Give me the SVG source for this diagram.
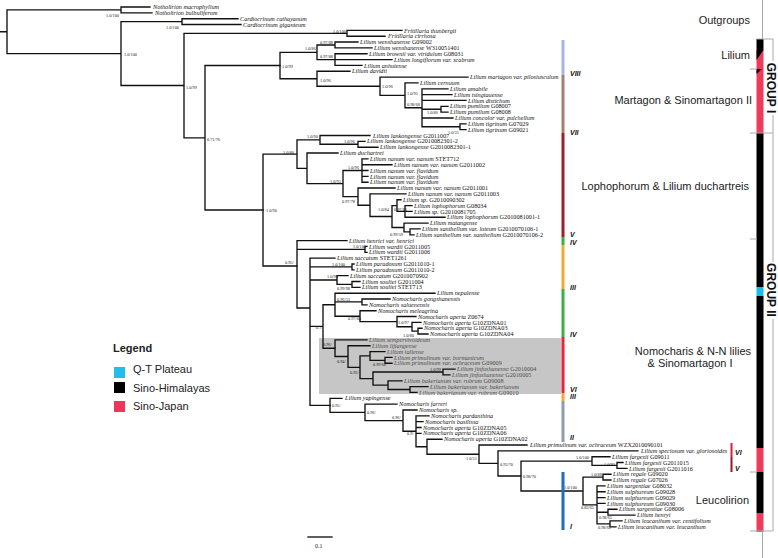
<svg xmlns="http://www.w3.org/2000/svg" width="778" height="558" viewBox="0 0 778 558">
<style>
.t{font-family:"Liberation Serif",serif;font-style:italic;font-size:6.2px;fill:#111}
.c{font-style:normal}
.g .t{fill:#4d4d4d}
.s{font-family:"Liberation Serif",serif;font-size:4.3px;fill:#222}
.r{font-family:"Liberation Sans",sans-serif;font-weight:bold;font-style:italic;font-size:7px;fill:#111}
.lab{font-family:"Liberation Sans",sans-serif;font-size:11px;fill:#222}
.grp{font-family:"Liberation Sans",sans-serif;font-size:12px;font-weight:bold;fill:#111}
.br{stroke:#aaa;stroke-width:1;fill:none}
.tree{stroke:#111;stroke-width:1.35;fill:none;stroke-linecap:square}
</style>
<rect width="778" height="558" fill="#fff"/>
<rect id="shade" x="319" y="338" width="242" height="56" fill="#c6c6c6"/>
<g id="connectors" class="tree">
<path d="M0 31.7H7M7 9.9V53.6M7 9.9H121M7 53.6H121M121 7V12.8M121 7H150M121 12.8H152M121 21.6V85.5M121 21.6H182M121 85.5H184M182 18.7V24.5M182 18.7H238M182 24.5H241M184 33.3V137.8M184 33.3H347M184 137.8H205M347 30.4V36.2M347 30.4H402M347 36.2H385M205 65.5V210M205 65.5H280M205 210H263"/>
<path d="M280 52.3V78.7M280 52.3H317M280 78.7H317M317 45V59.6M317 45H335M317 59.6H335M335 42V47.9M335 42H358M335 47.9H372M335 53.7V65.4M335 53.7H367M335 59.6H392M335 65.4H362M317 71.2V86.2M317 71.2H350M317 86.2H380M380 77.1V95.3M380 77.1H468M380 95.3H405M405 82.9V107.7M405 82.9H418M405 107.7H422M422 88.8V126.7M422 88.8H448M422 94.6H452M422 100.4H466M422 109.2H441M422 118H453M422 126.7H460M441 106.3V112.1M441 106.3H448M441 112.1H448M460 123.8V129.6M460 123.8H466M460 129.6H466"/>
<path d="M263 154.1V266M263 154.1H297M263 266H297M297 139.9V168.3M297 139.9H320M297 168.3H307M320 135.5V144.2M320 135.5H370M320 144.2H358M358 141.3V147.2M358 141.3H365M358 147.2H378M307 153V183.6M307 153H338M307 183.6H343M343 170.5V196.6M343 170.5H362M343 196.6H358M362 158.8V182.2M362 158.8H368M362 164.7H392M362 170.5H368M362 176.4H368M362 182.2H368M358 188V205.2M358 188H395M358 205.2H370M370 193.9V216.5M370 193.9H406M370 216.5H392M392 205.6V227.5M392 205.6H397M392 227.5H404M397 199.7V211.4M397 199.7H401M397 211.4H405M405 205.6V217.2M405 205.6H412M405 211.4H412M405 217.2H445M404 223.1V231.8M404 223.1H428M404 231.8H410M410 228.9V234.8M410 228.9H420M410 234.8H414"/>
<path d="M297 240.6V308M297 240.6H347M297 249.4H365M297 308H310M365 246.4V252.3M365 246.4H367M365 252.3H367M310 258.1V405.3M310 258.1H335M310 266.9H352M310 280H337M310 326.4H323M310 405.3H330M352 264V269.8M352 264H354M352 269.8H354M337 275.6V284.4M337 275.6H348M337 284.4H352M352 281.5V287.3M352 281.5H360M352 287.3H360M323 304.7V348.2M323 304.7H335M323 348.2H335M335 293.2V316.2M335 293.2H435M335 301.9H362M335 316.2H360M362 299V304.8M362 299H390M362 304.8H367M360 310.7V321.6M360 310.7H376M360 321.6H397M397 316.5V326.7M397 316.5H416M397 326.7H412M412 322.4V331.1M412 322.4H421M412 331.1H418M418 328.2V334M418 328.2H422M418 334H428"/>
<path d="M335 339.9V356.5M335 339.9H367M335 356.5H348M348 345.7V367.3M348 345.7H370M348 367.3H360M360 355.9V378.6M360 355.9H370M360 378.6H373M370 351.6V360.3M370 351.6H385M370 360.3H385M385 357.4V363.2M385 357.4H392M385 363.2H392M373 372V385.1M373 372H443M373 385.1H388M443 369.1V374.9M443 369.1H455M443 374.9H450M388 380.8V389.5M388 380.8H402M388 389.5H410M410 386.6V392.4M410 386.6H428M410 392.4H417"/>
<path d="M330 398.3V412.4M330 398.3H342M330 412.4H365M365 404.1V420.6M365 404.1H397M365 420.6H403M403 410V431.2M403 410H417M403 431.2H416M416 415.8V446.7M416 415.8H429M416 421.6H423M416 427.5H421M416 433.3H421M416 446.7H427M427 439.2V454.2M427 439.2H442M427 454.2H479M479 445V463.4M479 445H527M479 463.4H498M498 450.8V476M498 450.8H638M498 476H521M521 461.1V491M521 461.1H592M521 491H583M592 456.7V465.4M592 456.7H610M592 465.4H617M617 462.5V468.4M617 462.5H623M617 468.4H627M583 477.1V504.9M583 477.1H603M583 504.9H597M603 474.2V480M603 474.2H611M603 480H611M597 485.9V523.8M597 485.9H605M597 491.7H605M597 497.6H605M597 503.4H605M597 512.2H608M597 523.8H610M608 509.2V515.1M608 509.2H617M608 515.1H635M610 520.9V526.8M610 520.9H622M610 526.8H616"/>
<path d="M308 537H332"/>
</g>
<g id="tips">
<g id="t00"><text class="t" x="153" y="9.1">Notholirion macrophyllum</text></g>
<g id="t01"><text class="t" x="155" y="14.9">Notholirion bulbuliferum</text></g>
<g id="t02"><text class="t" x="240" y="20.8">Cardiocrinum cathayanum</text></g>
<g id="t03"><text class="t" x="243" y="26.6">Cardiocrinum giganteum</text></g>
<g id="t04"><text class="t" x="404" y="32.5">Fritillaria thunbergii</text></g>
<g id="t05"><text class="t" x="388" y="38.3">Fritillaria cirrhosa</text></g>
<g id="t06"><text class="t" x="360" y="44.1">Lilium wenshanense <tspan class="c">G09002</tspan></text></g>
<g id="t07"><text class="t" x="374" y="50">Lilium wenshanense <tspan class="c">W310051401</tspan></text></g>
<g id="t08"><text class="t" x="369" y="55.8">Lilium brownii var. viridulum <tspan class="c">G08031</tspan></text></g>
<g id="t09"><text class="t" x="394" y="61.7">Lilium longiflorum var. scabrum</text></g>
<g id="t10"><text class="t" x="364" y="67.5">Lilium anhuiense</text></g>
<g id="t11"><text class="t" x="352" y="73.3">Lilium davidii</text></g>
<g id="t12"><text class="t" x="470" y="79.2">Lilium martagon var. pilosiusculum</text></g>
<g id="t13"><text class="t" x="420" y="85">Lilium cernuum</text></g>
<g id="t14"><text class="t" x="450" y="90.9">Lilium amabile</text></g>
<g id="t15"><text class="t" x="454" y="96.7">Lilium tsingtauense</text></g>
<g id="t16"><text class="t" x="468" y="102.5">Lilium distichum</text></g>
<g id="t17"><text class="t" x="450" y="108.4">Lilium pumilum <tspan class="c">G08007</tspan></text></g>
<g id="t18"><text class="t" x="450" y="114.2">Lilium pumilum <tspan class="c">G08008</tspan></text></g>
<g id="t19"><text class="t" x="455" y="120.1">Lilium concolor var. pulchellum</text></g>
<g id="t20"><text class="t" x="468" y="125.9">Lilium tigrinum <tspan class="c">G07029</tspan></text></g>
<g id="t21"><text class="t" x="468" y="131.7">Lilium tigrinum <tspan class="c">G09021</tspan></text></g>
<g id="t22"><text class="t" x="373" y="137.6">Lilium lankongense <tspan class="c">G2011007</tspan></text></g>
<g id="t23"><text class="t" x="367" y="143.4">Lilium lankongense <tspan class="c">G2010082301-2</tspan></text></g>
<g id="t24"><text class="t" x="380" y="149.3">Lilium lankongense <tspan class="c">G2010082301-1</tspan></text></g>
<g id="t25"><text class="t" x="340" y="155.1">Lilium duchartrei</text></g>
<g id="t26"><text class="t" x="370" y="160.9">Lilium nanum var. nanum <tspan class="c">STET712</tspan></text></g>
<g id="t27"><text class="t" x="394" y="166.8">Lilium nanum var. nanum <tspan class="c">G2011002</tspan></text></g>
<g id="t28"><text class="t" x="370" y="172.6">Lilium nanum var. flavidum</text></g>
<g id="t29"><text class="t" x="370" y="178.5">Lilium nanum var. flavidum</text></g>
<g id="t30"><text class="t" x="370" y="184.3">Lilium nanum var. flavidum</text></g>
<g id="t31"><text class="t" x="397" y="190.1">Lilium nanum var. nanum <tspan class="c">G2011001</tspan></text></g>
<g id="t32"><text class="t" x="408" y="196">Lilium nanum var. nanum <tspan class="c">G2011003</tspan></text></g>
<g id="t33"><text class="t" x="403" y="201.8">Lilium sp. <tspan class="c">G2010090302</tspan></text></g>
<g id="t34"><text class="t" x="414" y="207.7">Lilium lophophorum <tspan class="c">G08034</tspan></text></g>
<g id="t35"><text class="t" x="414" y="213.5">Lilium sp. <tspan class="c">G2010081705</tspan></text></g>
<g id="t36"><text class="t" x="447" y="219.3">Lilium lophophorum <tspan class="c">G2010081001-1</tspan></text></g>
<g id="t37"><text class="t" x="430" y="225.2">Lilium matangense</text></g>
<g id="t38"><text class="t" x="422" y="231">Lilium xanthellum var. luteum <tspan class="c">G2010070106-1</tspan></text></g>
<g id="t39"><text class="t" x="416" y="236.9">Lilium xanthellum var. xanthellum <tspan class="c">G2010070106-2</tspan></text></g>
<g id="t40"><text class="t" x="349" y="242.7">Lilium henrici var. henrici</text></g>
<g id="t41"><text class="t" x="369" y="248.5">Lilium wardii <tspan class="c">G2011005</tspan></text></g>
<g id="t42"><text class="t" x="369" y="254.4">Lilium wardii <tspan class="c">G2011006</tspan></text></g>
<g id="t43"><text class="t" x="337" y="260.2">Lilium saccatum <tspan class="c">STET1261</tspan></text></g>
<g id="t44"><text class="t" x="356" y="266.1">Lilium paradoxum <tspan class="c">G2011010-1</tspan></text></g>
<g id="t45"><text class="t" x="356" y="271.9">Lilium paradoxum <tspan class="c">G2011010-2</tspan></text></g>
<g id="t46"><text class="t" x="350" y="277.7">Lilium saccatum <tspan class="c">G2010070902</tspan></text></g>
<g id="t47"><text class="t" x="362" y="283.6">Lilium souliei <tspan class="c">G2011004</tspan></text></g>
<g id="t48"><text class="t" x="362" y="289.4">Lilium souliei <tspan class="c">STET713</tspan></text></g>
<g id="t49"><text class="t" x="437" y="295.3">Lilium nepalense</text></g>
<g id="t50"><text class="t" x="392" y="301.1">Nomocharis gongshanensis</text></g>
<g id="t51"><text class="t" x="369" y="306.9">Nomocharis saluenensis</text></g>
<g id="t52"><text class="t" x="378" y="312.8">Nomocharis meleagrina</text></g>
<g id="t53"><text class="t" x="418" y="318.6">Nomocharis aperta <tspan class="c">Z0674</tspan></text></g>
<g id="t54"><text class="t" x="423" y="324.5">Nomocharis aperta <tspan class="c">G10ZDNA01</tspan></text></g>
<g id="t55"><text class="t" x="424" y="330.3">Nomocharis aperta <tspan class="c">G10ZDNA03</tspan></text></g>
<g id="t56"><text class="t" x="430" y="336.1">Nomocharis aperta <tspan class="c">G10ZDNA04</tspan></text></g>
<g class="g">
<g id="t57"><text class="t" x="369" y="342">Lilium sempervivoideum</text></g>
<g id="t58"><text class="t" x="372" y="347.8">Lilium lijiangense</text></g>
<g id="t59"><text class="t" x="387" y="353.7">Lilium taliense</text></g>
<g id="t60"><text class="t" x="394" y="359.5">Lilium primulinum var. burmanicum</text></g>
<g id="t61"><text class="t" x="394" y="365.3">Lilium primulinum var. ochraceum <tspan class="c">G09009</tspan></text></g>
<g id="t62"><text class="t" x="457" y="371.2">Lilium jinfushanense <tspan class="c">G2010004</tspan></text></g>
<g id="t63"><text class="t" x="452" y="377">Lilium jinfushanense <tspan class="c">G2010005</tspan></text></g>
<g id="t64"><text class="t" x="404" y="382.9">Lilium bakerianum var. rubrum <tspan class="c">G09008</tspan></text></g>
<g id="t65"><text class="t" x="430" y="388.7">Lilium bakerianum var. bakerianum</text></g>
<g id="t66"><text class="t" x="419" y="394.5">Lilium bakerianum var. rubrum <tspan class="c">G09010</tspan></text></g>
</g>
<g id="t67"><text class="t" x="345" y="400.4">Lilium yapingense</text></g>
<g id="t68"><text class="t" x="399" y="406.2">Nomocharis farreri</text></g>
<g id="t69"><text class="t" x="419" y="412.1">Nomocharis sp.</text></g>
<g id="t70"><text class="t" x="431" y="417.9">Nomocharis pardanthina</text></g>
<g id="t71"><text class="t" x="425" y="423.7">Nomocharis basilissa</text></g>
<g id="t72"><text class="t" x="423" y="429.6">Nomocharis aperta <tspan class="c">G10ZDNA05</tspan></text></g>
<g id="t73"><text class="t" x="423" y="435.4">Nomocharis aperta <tspan class="c">G10ZDNA06</tspan></text></g>
<g id="t74"><text class="t" x="444" y="441.3">Nomocharis aperta <tspan class="c">G10ZDNA02</tspan></text></g>
<g id="t75"><text class="t" x="530" y="447.1">Lilium primulinum var. ochraceum <tspan class="c">WZX2010090101</tspan></text></g>
<g id="t76"><text class="t" x="641" y="452.9">Lilium speciosum var. gloriosoides</text></g>
<g id="t77"><text class="t" x="612" y="458.8">Lilium fargesii <tspan class="c">G09011</tspan></text></g>
<g id="t78"><text class="t" x="625" y="464.6">Lilium fargesii <tspan class="c">G2011015</tspan></text></g>
<g id="t79"><text class="t" x="629" y="470.5">Lilium fargesii <tspan class="c">G2011016</tspan></text></g>
<g id="t80"><text class="t" x="613" y="476.3">Lilium regale <tspan class="c">G09020</tspan></text></g>
<g id="t81"><text class="t" x="613" y="482.1">Lilium regale <tspan class="c">G07026</tspan></text></g>
<g id="t82"><text class="t" x="607" y="488">Lilium sargentiae <tspan class="c">G08032</tspan></text></g>
<g id="t83"><text class="t" x="607" y="493.8">Lilium sulphureum <tspan class="c">G09028</tspan></text></g>
<g id="t84"><text class="t" x="607" y="499.7">Lilium sulphureum <tspan class="c">G09029</tspan></text></g>
<g id="t85"><text class="t" x="607" y="505.5">Lilium sulphureum <tspan class="c">G09030</tspan></text></g>
<g id="t86"><text class="t" x="619" y="511.3">Lilium sargentiae <tspan class="c">G08006</tspan></text></g>
<g id="t87"><text class="t" x="637" y="517.2">Lilium henryi</text></g>
<g id="t88"><text class="t" x="624" y="523">Lilium leucanthum var. centifolium</text></g>
<g id="t89"><text class="t" x="618" y="528.9">Lilium leucanthum var. leucanthum</text></g>
</g>
<g id="support" class="s">
<text x="106" y="16.5">1.0/100</text><text x="166" y="28.5">1.0/100</text><text x="124" y="56">1.0/100</text><text x="186" y="88.5">1.0/99</text><text x="333" y="33">1.0/100</text><text x="207" y="141">0.71/76</text>
<text x="282" y="67.5">1.0/99</text><text x="305" y="49.5">1.0/86</text><text x="320" y="44">0.97/88</text><text x="320" y="58">0.97/88</text><text x="320" y="81.5">1.0/96</text><text x="382" y="88">1.0/96</text><text x="407" y="95">1.0/95</text><text x="407" y="106">0.98/68</text><text x="427" y="113.5">1.0/86</text><text x="448" y="133.5">1.0/31</text>
<text x="266" y="212">1.0/90</text><text x="307" y="137.5">1.0/90</text><text x="344" y="143">1.0/96</text><text x="283" y="153.5">1.0/80</text><text x="348" y="169">1.0/96</text><text x="330" y="182.5">1.0/95</text><text x="342" y="202.5">0.97/78</text><text x="378" y="211">1.0/84</text><text x="394" y="210.5">0.97/86</text><text x="390" y="236">0.99/59</text>
<text x="353" y="248">1.0/100</text><text x="285" y="264">0.95/</text><text x="332" y="266">1.0/100</text><text x="327" y="278">1.0/98</text><text x="337" y="290">0.99/98</text><text x="337" y="301">0.96/53</text><text x="348" y="319.5">0.97/84</text><text x="398" y="324">1.0/97</text><text x="403" y="336.5">1.0/80</text><text x="316" y="329">0.7/</text>
<text x="323" y="345.5">0.96/</text><text x="337" y="363">0.94/</text><text x="350" y="374">0.92/</text><text x="373" y="366">0.99/68</text><text x="430" y="370.5">1.0/99</text>
<text x="332" y="407">0.95/</text><text x="367" y="414">0.96/</text><text x="392" y="419">0.96/</text><text x="407" y="435">0.9/</text><text x="466" y="460">1.0/51</text><text x="500" y="465.5">0.93/70</text><text x="523" y="478">0.98/70</text><text x="576" y="459">1.0/100</text><text x="604" y="466">1.0/92</text><text x="564" y="489">1.0/100</text><text x="591" y="475.5">1.0/88</text><text x="581" y="509">0.83/65</text><text x="599" y="519">0.98/65</text><text x="598" y="529">0.98/65</text>
</g>
<g id="scale"><text x="315" y="548" style="font-family:'Liberation Serif',serif;font-size:6px;fill:#222">0.1</text></g>
<g id="clade-bars">
<rect x="561.5" y="40" width="3" height="35" fill="#a9b6e3"/>
<rect x="561.5" y="75" width="3" height="58" fill="#a08272"/>
<rect x="561.5" y="133" width="3" height="104" fill="#9c1f2e"/>
<rect x="561.5" y="237" width="3" height="8" fill="#3fae49"/>
<rect x="561.5" y="245" width="3" height="44" fill="#f2aa33"/>
<rect x="561.5" y="289" width="3" height="48" fill="#3fae49"/>
<rect x="561.5" y="337" width="3" height="56" fill="#e1253f"/>
<rect x="561.5" y="393" width="3" height="8" fill="#f2aa33"/>
<rect x="561.5" y="401" width="3" height="41" fill="#8c9db3"/>
<rect x="561.5" y="472" width="3" height="58" fill="#1e6fba"/>
<rect x="730.5" y="443" width="2" height="14" fill="#d9213b"/>
<rect x="730.5" y="457" width="2" height="15" fill="#8f1b2b"/>
<text class="r" x="570" y="75.5">VIII</text><text class="r" x="570" y="134.5">VII</text><text class="r" x="570" y="237">V</text><text class="r" x="570" y="245">IV</text><text class="r" x="570" y="290">III</text><text class="r" x="570" y="337">IV</text><text class="r" x="570" y="391.5">VI</text><text class="r" x="570" y="399">III</text><text class="r" x="570" y="440">II</text><text class="r" x="570" y="529">I</text><text class="r" x="735" y="455">VI</text><text class="r" x="735" y="471">V</text>
</g>
<g id="geo-bar">
<rect x="756.5" y="39" width="7" height="11" fill="#000"/>
<rect x="756.5" y="50" width="7" height="83" fill="#ef3b5b"/>
<polygon points="756.5,50 763.5,50 756.5,60" fill="#000"/>
<polygon points="756.5,69 762,69 756.5,74" fill="#000"/>
<rect x="756.5" y="133" width="7" height="154" fill="#000"/>
<rect x="756.5" y="287" width="7" height="9" fill="#1bbde8"/>
<rect x="756.5" y="296" width="7" height="152" fill="#000"/>
<rect x="756.5" y="448" width="7" height="24" fill="#ef3b5b"/>
<rect x="756.5" y="472" width="7" height="41" fill="#000"/>
<rect x="756.5" y="513" width="7" height="19" fill="#ef3b5b"/>
</g>
<g id="brackets" class="br">
<path d="M762.5 0V39M757 39H773M773 39V61M773 115V133M750 69H757M750 133H773M750 239H757M773 133V262M773 319V531M750 472H757M750 531H773M762.5 531V558"/>
</g>
<g id="group-labels">
<text class="grp" transform="translate(766.5,88) rotate(90)" text-anchor="middle">GROUP I</text>
<text class="grp" transform="translate(766.5,290) rotate(90)" text-anchor="middle">GROUP II</text>
</g>
<g id="clade-labels" class="lab" text-anchor="end">
<text x="750" y="24">Outgroups</text>
<text x="750" y="59">Lilium</text>
<text x="752" y="104">Martagon &amp; Sinomartagon II</text>
<text x="749" y="190">Lophophorum &amp; Lilium duchartreis</text>
<text x="751" y="355">Nomocharis &amp; N-N lilies</text>
<text x="690" y="367" text-anchor="middle">&amp; Sinomartagon I</text>
<text x="749" y="504">Leucolirion</text>
</g>
<g id="legend">
<text x="113" y="352" style="font-family:'Liberation Sans',sans-serif;font-size:11px;font-weight:bold;fill:#222">Legend</text>
<rect x="114" y="367" width="11" height="11" fill="#22bdea"/>
<rect x="114" y="382" width="11" height="11" fill="#000"/>
<rect x="114" y="401" width="11" height="11" fill="#f0355a"/>
<text class="lab" x="133" y="373">Q-T Plateau</text>
<text class="lab" x="133" y="392">Sino-Himalayas</text>
<text class="lab" x="133" y="410">Sino-Japan</text>
</g>
</svg>
